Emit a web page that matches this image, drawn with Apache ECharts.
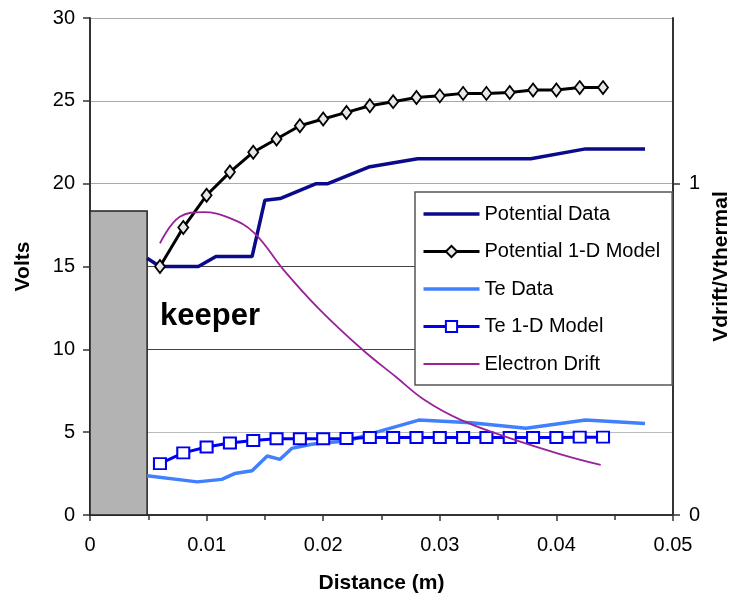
<!DOCTYPE html>
<html><head><meta charset="utf-8">
<script src="https://cdn.jsdelivr.net/npm/echarts@6/dist/echarts.min.js"></script>
<style>html,body{margin:0;padding:0;background:#fff}#c{width:740px;height:605px}</style>
</head><body><div id="c"></div>
<script>
// ---- data ----
const potentialData = [[0.0049,15.5],[0.006,15.0],[0.0093,15.0],[0.0108,15.6],[0.0139,15.6],[0.0150,19.0],[0.0163,19.1],[0.0194,20.0],[0.0204,20.0],[0.0239,21.0],[0.0281,21.5],[0.0378,21.5],[0.0425,22.1],[0.0476,22.1]];
const modelX = [0.006,0.008,0.010,0.012,0.014,0.016,0.018,0.020,0.022,0.024,0.026,0.028,0.030,0.032,0.034,0.036,0.038,0.040,0.042,0.044];
const potentialModel = [15.0,17.35,19.3,20.7,21.9,22.7,23.5,23.9,24.3,24.7,24.95,25.2,25.3,25.45,25.45,25.5,25.65,25.65,25.8,25.8];
const teModel = [3.1,3.75,4.1,4.35,4.5,4.6,4.6,4.6,4.62,4.68,4.68,4.68,4.68,4.68,4.68,4.68,4.68,4.68,4.7,4.7];
const teData = [[0.0049,2.37],[0.0092,2.0],[0.0113,2.15],[0.0124,2.5],[0.0139,2.67],[0.0152,3.56],[0.0163,3.36],[0.0173,4.02],[0.0189,4.26],[0.0200,4.36],[0.0220,4.45],[0.0242,4.93],[0.0282,5.73],[0.0327,5.57],[0.0374,5.23],[0.0425,5.73],[0.0476,5.53]];
const electronDrift = [[0.006,0.82],[0.0077,0.90],[0.0097,0.914],[0.012,0.896],[0.0141,0.851],[0.0166,0.74],[0.0197,0.62],[0.0234,0.498],[0.0262,0.418],[0.0287,0.347],[0.0318,0.287],[0.036,0.232],[0.0403,0.184],[0.0438,0.151]];
const keeperX = [0, 0.0049];
const keeperY = [0, 18.35];
const keeperLabel = 'keeper';
const seriesNames = ['Potential Data','Potential 1-D Model','Te Data','Te 1-D Model','Electron Drift'];
const rightTicks = [0, 1];

const FONT = 'Liberation Sans, Arial, sans-serif';
const zip = (xs, ys) => xs.map((x, i) => [x, ys[i]]);
const bandIcon = (h) => 'path://M0,0h56v' + h + 'h-56z';

const chart = echarts.init(document.getElementById('c'), null, {renderer:'canvas'});
chart.setOption({
  animation: false,
  backgroundColor: '#fff',
  textStyle: {fontFamily: FONT, color: '#000'},
  grid: {left: 90, right: 58, top: 18, bottom: 90},
  legend: {
    orient: 'vertical', left: 415, top: 192,
    padding: [12, 12, 11, 7], itemGap: 17.5, itemWidth: 56, itemHeight: 14,
    symbolKeepAspect: true,
    backgroundColor: '#fff', borderColor: '#555', borderWidth: 1.5, borderRadius: 0,
    textStyle: {fontFamily: FONT, fontSize: 20, color: '#000'},
    data: [
      {name: seriesNames[0], icon: bandIcon(3.5)},
      {name: seriesNames[1], lineStyle: {width: 3, color: '#000'}},
      {name: seriesNames[2], icon: bandIcon(3.5)},
      {name: seriesNames[3], lineStyle: {width: 3, color: '#0000f0'}},
      {name: seriesNames[4], icon: bandIcon(1.8)}
    ]
  },
  xAxis: {
    type: 'value', min: 0, max: 0.05, interval: 0.01,
    name: 'Distance (m)', nameLocation: 'middle', nameGap: 58,
    nameTextStyle: {fontFamily: FONT, fontSize: 21, fontWeight: 'bold', color: '#000'},
    axisLine: {show: true, lineStyle: {color: '#333', width: 2}},
    axisTick: {show: true, length: 6, lineStyle: {color: '#333', width: 1.5}},
    minorTick: {show: true, splitNumber: 2, length: 5, lineStyle: {color: '#333', width: 1.5}},
    axisLabel: {fontFamily: FONT, fontSize: 20, color: '#000', margin: 20},
    splitLine: {show: false}
  },
  yAxis: [{
    type: 'value', min: 0, max: 30, interval: 5,
    name: 'Volts', nameLocation: 'middle', nameGap: 56, nameRotate: 90,
    nameTextStyle: {fontFamily: FONT, fontSize: 21, fontWeight: 'bold', color: '#000'},
    axisLine: {show: true, lineStyle: {color: '#333', width: 2}},
    axisTick: {show: true, length: 7, lineStyle: {color: '#333', width: 1.5}},
    axisLabel: {fontFamily: FONT, fontSize: 20, color: '#000', margin: 15},
    splitLine: {show: true, lineStyle: {color: ['#999','#bbb','#444','#444','#aaa','#aaa','#aaa'], width: 1.2}}
  },{
    type: 'value', min: 0, max: 1.5, position: 'right',
    name: 'Vdrift/Vthermal', nameLocation: 'middle', nameGap: 28, nameRotate: 90,
    nameTextStyle: {fontFamily: FONT, fontSize: 21, fontWeight: 'bold', color: '#000'},
    axisLine: {show: true, lineStyle: {color: '#333', width: 2}},
    axisTick: {show: true, length: 7, customValues: rightTicks, lineStyle: {color: '#333', width: 1.5}},
    axisLabel: {fontFamily: FONT, fontSize: 20, color: '#000', margin: 16, customValues: rightTicks},
    splitLine: {show: false}
  }],
  graphic: [{
    type: 'text', left: 160, top: 301, z: 10,
    style: {text: keeperLabel, font: 'bold 31px ' + FONT, fill: '#000'}
  }],
  series: [{
    name: seriesNames[0], type: 'line', data: potentialData, showSymbol: false, symbol: 'none',
    lineStyle: {color: '#0a0a8a', width: 3.5}, itemStyle: {color: '#0a0a8a'}, z: 3,
    markArea: {
      silent: true,
      itemStyle: {color: '#b3b3b3', borderColor: '#222', borderWidth: 1.5},
      data: [[{coord: [keeperX[0], keeperY[0]]}, {coord: [keeperX[1], keeperY[1]]}]]
    }
  },{
    name: seriesNames[1], type: 'line', data: zip(modelX, potentialModel),
    symbol: 'diamond', symbolSize: [10, 13],
    lineStyle: {color: '#000', width: 3}, itemStyle: {color: '#e8e8e8', borderColor: '#000', borderWidth: 1.8}, z: 4
  },{
    name: seriesNames[2], type: 'line', data: teData, showSymbol: false, symbol: 'none',
    lineStyle: {color: '#4080ff', width: 3.5}, itemStyle: {color: '#4080ff'}, z: 3
  },{
    name: seriesNames[3], type: 'line', data: zip(modelX, teModel),
    symbol: 'rect', symbolSize: [12, 11],
    lineStyle: {color: '#0000f0', width: 3}, itemStyle: {color: '#fff', borderColor: '#0000f0', borderWidth: 2}, z: 4
  },{
    name: seriesNames[4], type: 'line', yAxisIndex: 1, data: electronDrift, smooth: 0.4,
    showSymbol: false, symbol: 'none',
    lineStyle: {color: '#992299', width: 1.8}, itemStyle: {color: '#992299'}, z: 5
  }]
});
</script></body></html>
